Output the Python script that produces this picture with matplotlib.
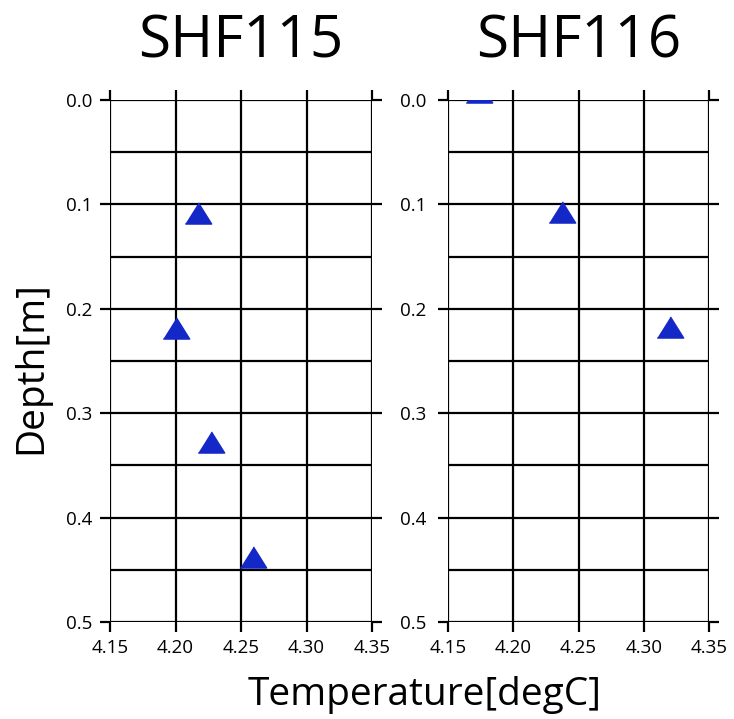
import matplotlib
matplotlib.use("Agg")
import matplotlib.pyplot as plt
import numpy as np

plt.rcParams['font.family'] = ['Open Sans', 'DejaVu Sans']

titles = ["SHF115", "SHF116"]
temp_115 = [4.217, 4.200, 4.227, 4.259]
depth_115 = [0.108, 0.218, 0.328, 0.438]
temp_116 = [4.174, 4.237, 4.320]
depth_116 = [-0.008, 0.107, 0.217]
x_ticks = [4.15, 4.20, 4.25, 4.30, 4.35]
x_tick_labels = ["4.15", "4.20", "4.25", "4.30", "4.35"]
y_ticks = [0.0, 0.1, 0.2, 0.3, 0.4, 0.5]
y_tick_labels = ["0.0", "0.1", "0.2", "0.3", "0.4", "0.5"]
y_minor = [0.05, 0.15, 0.25, 0.35, 0.45]

W, H = 734, 719
fig = plt.figure(figsize=(W / 100, H / 100), dpi=100)

axes_px = [(110, 100, 262, 522), (448, 100, 261, 522)]
data = [(temp_115, depth_115), (temp_116, depth_116)]
tri = [(-1, -0.8), (1, -0.8), (0, 0.8)]
blue = '#1428c8'

for i, ((l, t, w, h), (xs, ys)) in enumerate(zip(axes_px, data)):
    ax = fig.add_axes([l / W, 1 - (t + h) / H, w / W, h / H])
    ax.set_xlim(4.15, 4.35)
    ax.set_ylim(0.5, 0.0)
    for s in ax.spines.values():
        s.set_visible(False)
    ax.set_xticks(x_ticks)
    ax.set_xticklabels(x_tick_labels)
    ax.set_yticks(y_ticks)
    ax.set_yticklabels(y_tick_labels)
    ax.set_yticks(y_minor, minor=True)
    ax.grid(True, which='both', color='black', linewidth=1.6)
    ax.tick_params(which='major', direction='out', length=7.5, width=1.6,
                   top=True, bottom=True, left=True, right=True,
                   labelsize=13.5, colors='black')
    ax.tick_params(which='minor', length=0)
    ax.tick_params(axis='x', pad=5)
    ax.tick_params(axis='y', pad=5 if i == 0 else 8)
    ax.plot(xs, ys, linestyle='none', marker=tri, markersize=19,
            color=blue, markeredgecolor=blue, clip_on=True, zorder=3)
    fig.text((l + w / 2) / W, 1 - 57 / H, titles[i], fontsize=42,
             ha='center', va='baseline')

fig.text(425 / W, 1 - 705 / H, "Temperature[degC]", fontsize=28,
         ha='center', va='baseline')
fig.text(31 / W, 1 - 368 / H, "Depth[m]", fontsize=28, rotation=90,
         ha='center', va='center')

fig.savefig("out.png", dpi=100)
